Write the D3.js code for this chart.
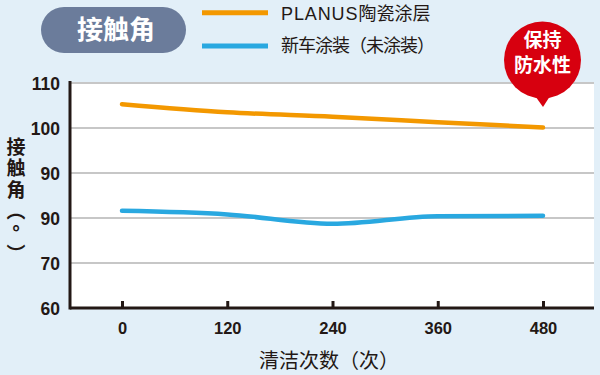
<!DOCTYPE html>
<html>
<head>
<meta charset="utf-8">
<script src="https://cdn.jsdelivr.net/npm/d3@7"></script>
<style>
  body { margin: 0; background: #e2eff8; }
  svg { display: block; font-family: "Liberation Sans", "Noto Sans CJK SC", sans-serif; }
</style>
</head>
<body>
<div id="chart"></div>
<script>
// Data
const cycles = [0, 120, 240, 360, 480];
const planus = [105.3, 103.5, 102.5, 101.3, 100.1];
const newCar = [81.6, 80.8, 78.7, 80.4, 80.5];
const yTicks = [60, 70, 80, 90, 100, 110];
const yTickLabels = ['60', '70', '90', '90', '100', '110'];
const seriesNames = ['陶瓷涂层', '新车涂装（未涂装）'];

const WIDTH = 600;
const HEIGHT = 375;
const LEFT = 70, RIGHT = 594, TOP = 82, BOTTOM = 308;
const ORANGE = '#f39800', BLUE = '#29a8e0', DARK = '#231815';
const CJK = '"Noto Sans CJK SC", sans-serif';

const svg = d3.select('#chart')
              .append('svg')
              .attr('width', WIDTH)
              .attr('height', HEIGHT);

svg.append('rect').attr('width', WIDTH).attr('height', HEIGHT).attr('fill', '#e2eff8');

// Plot background
svg.append('rect')
   .attr('x', LEFT).attr('y', TOP)
   .attr('width', RIGHT - LEFT).attr('height', BOTTOM - TOP)
   .attr('fill', '#fff');

const xScale = d3.scaleLinear().domain([0, 480]).range([122, 543]);
const yScale = d3.scaleLinear().domain([60, 110]).range([BOTTOM, TOP + 1]);

// Gridlines
svg.selectAll('line.grid')
   .data(yTicks.slice(1))
   .enter()
   .append('line')
   .attr('class', 'grid')
   .attr('x1', LEFT).attr('x2', RIGHT)
   .attr('y1', d => yScale(d)).attr('y2', d => yScale(d))
   .attr('stroke', '#b5b5b5')
   .attr('stroke-width', 1.5);

// Y axis
const yAxis = d3.axisLeft(yScale)
                .tickValues(yTicks)
                .tickFormat((d, i) => yTickLabels[i])
                .tickSize(0)
                .tickPadding(10);
const gy = svg.append('g')
              .attr('transform', 'translate(' + LEFT + ', 0)')
              .call(yAxis);
gy.select('.domain').remove();
gy.selectAll('text')
  .attr('fill', DARK)
  .style('font-size', '17.5px')
  .style('font-weight', 'bold')
  .style('font-family', '"Liberation Sans Narrow", "Liberation Sans", sans-serif')
  .attr('dy', '0.36em');

// X axis
const xAxis = d3.axisBottom(xScale)
                .tickValues(cycles)
                .tickSize(0)
                .tickPadding(14);
const gx = svg.append('g')
              .attr('transform', 'translate(0, ' + BOTTOM + ')')
              .call(xAxis);
gx.select('.domain').remove();
gx.selectAll('text')
  .attr('fill', DARK)
  .style('font-size', '16.5px')
  .style('font-weight', 'bold')
  .style('font-family', '"Liberation Sans Narrow", "Liberation Sans", sans-serif');
gx.selectAll('.tick')
  .append('line')
  .attr('y1', 0).attr('y2', -7)
  .attr('stroke', DARK)
  .attr('stroke-width', 3);

// Axis lines
svg.append('line')
   .attr('x1', LEFT).attr('x2', LEFT)
   .attr('y1', TOP - 1).attr('y2', BOTTOM + 1.5)
   .attr('stroke', DARK).attr('stroke-width', 3);
svg.append('line')
   .attr('x1', LEFT).attr('x2', RIGHT)
   .attr('y1', BOTTOM).attr('y2', BOTTOM)
   .attr('stroke', DARK).attr('stroke-width', 3);

// Series lines
const line = d3.line()
               .x((d, i) => xScale(cycles[i]))
               .y(d => yScale(d))
               .curve(d3.curveMonotoneX);

[[planus, ORANGE], [newCar, BLUE]].forEach(([vals, color]) => {
  svg.append('path')
     .datum(vals)
     .attr('d', line)
     .attr('fill', 'none')
     .attr('stroke', color)
     .attr('stroke-width', 4.5)
     .attr('stroke-linecap', 'round');
});

// Legend
const legend = svg.append('g');
[ORANGE, BLUE].forEach((color, i) => {
  const y = 12.7 + i * 33.3;
  legend.append('line')
        .attr('x1', 202).attr('x2', 268)
        .attr('y1', y).attr('y2', y)
        .attr('stroke', color).attr('stroke-width', 5);
});
const leg1 = legend.append('text')
                   .attr('x', 281).attr('y', 19.5)
                   .attr('fill', DARK)
                   .style('font-size', '18px')
                   .style('font-family', CJK);
leg1.append('tspan')
    .style('font-family', '"Liberation Sans", sans-serif')
    .style('letter-spacing', '0.9px')
    .text('PLANUS');
leg1.append('tspan').text(seriesNames[0]);
legend.append('text')
      .attr('x', 281).attr('y', 51.5)
      .attr('fill', DARK)
      .style('font-size', '18px')
      .style('letter-spacing', '-1px')
      .style('font-family', CJK)
      .text(seriesNames[1]);

// Title pill
svg.append('rect')
   .attr('x', 41).attr('y', 7)
   .attr('width', 145).attr('height', 46)
   .attr('rx', 23)
   .attr('fill', '#6b7c9b');
svg.append('text')
   .attr('x', 116).attr('y', 38.5)
   .attr('text-anchor', 'middle')
   .attr('fill', '#fff')
   .style('font-size', '26px')
   .style('font-weight', 'bold')
   .style('font-family', CJK)
   .text('接触角');

// Red bubble
const bubble = svg.append('g');
bubble.append('circle')
      .attr('cx', 542.5).attr('cy', 60)
      .attr('r', 38.5)
      .attr('fill', '#d7000f');
bubble.append('path')
      .attr('d', 'M533,93 L543,107 L552,93 Z')
      .attr('fill', '#d7000f');
['保持', '防水性'].forEach((t, i) => {
  bubble.append('text')
        .attr('x', 542.5).attr('y', 47 + i * 25)
        .attr('text-anchor', 'middle')
        .attr('fill', '#fff')
        .style('font-size', '19px')
        .style('font-weight', 'bold')
        .style('font-family', CJK)
        .text(t);
});

// Y axis title (vertical, upright)
svg.append('text')
   .attr('x', 16).attr('y', 137)
   .attr('fill', DARK)
   .style('writing-mode', 'vertical-rl')
   .style('text-orientation', 'upright')
   .style('font-size', '19px')
   .style('font-weight', 'bold')
   .style('letter-spacing', '2.5px')
   .style('font-family', CJK)
   .text('接触角︵°︶');

// X axis title
svg.append('text')
   .attr('x', 329).attr('y', 368)
   .attr('text-anchor', 'middle')
   .attr('fill', DARK)
   .style('font-size', '20px')
   .style('font-family', CJK)
   .text('清洁次数（次）');
</script>
</body>
</html>
